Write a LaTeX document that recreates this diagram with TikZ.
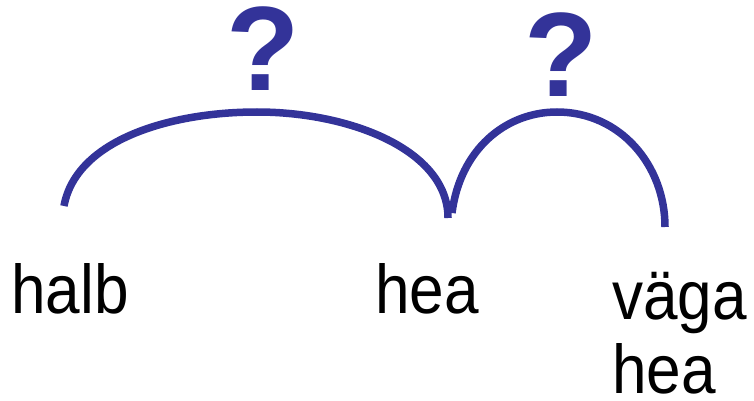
\documentclass[tikz,border=0pt]{standalone}
\usepackage{fontspec}
\setmainfont{Liberation Sans}
\newfontfamily\wordfont[FakeStretch=0.9]{Liberation Sans}
\definecolor{arcblue}{RGB}{51,51,153}
\begin{document}
\begin{tikzpicture}[x=1pt,y=-1pt,
  word/.style={inner sep=0pt,anchor=base west,font=\wordfont\fontsize{69}{69}\selectfont},
  qmark/.style={inner sep=0pt,anchor=base,text=arcblue,font=\fontsize{120}{120}\selectfont\bfseries},
  arcline/.style={draw=arcblue,line width=7.5pt}]
\useasboundingbox (0,0) rectangle (754,401);
\node[word] (halb) at (11,313) {halb};
\node[word] (hea) at (375,313) {hea};
\node[word] (vaga) at (612,319) {väga};
\node[word] (hea2) at (612,393) {hea};
\coordinate (a1) at (64,206);
\coordinate (a2) at (448,218);
\coordinate (b1) at (452,213);
\coordinate (b2) at (665,227);
\node[qmark] (q1) at (263,91) {?};
\node[qmark] (q2) at (561,97) {?};
\draw[arcline] (a1) .. controls (76,140) and (170,112) .. (257,112)
  .. controls (350,112) and (448,150) .. (a2);
\draw[arcline] (b1) .. controls (460,150) and (505,112) .. (557,112)
  .. controls (620,112) and (665,165) .. (b2);
\end{tikzpicture}
\end{document}
